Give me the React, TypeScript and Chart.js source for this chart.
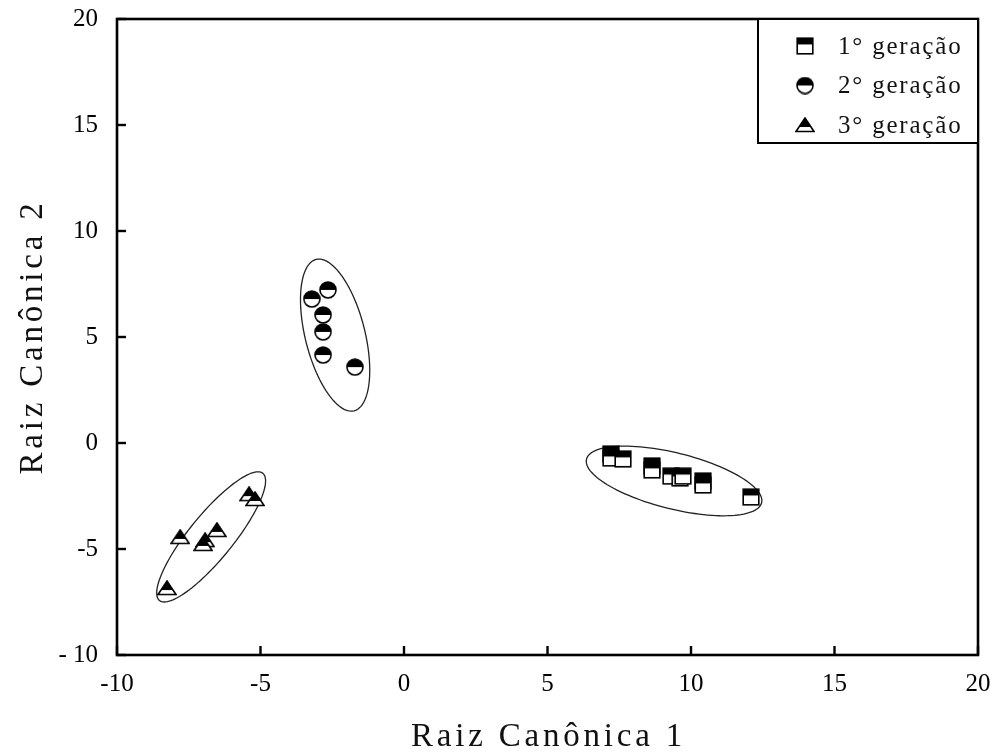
import { useEffect, useRef } from 'react';
import { Chart, registerables } from 'chart.js';

Chart.register(...registerables);

// ---- data ----
const seriesNames = ['1° geração', '2° geração', '3° geração'];

const gen1X = [7.21, 7.21, 7.63, 8.64, 8.64, 9.3, 9.62, 9.72, 10.42, 10.42, 12.09];
const gen1Y = [-0.52, -0.71, -0.75, -1.08, -1.27, -1.56, -1.65, -1.56, -1.79, -1.98, -2.55];

const gen2X = [-2.65, -3.21, -2.82, -2.82, -2.82, -1.71];
const gen2Y = [7.22, 6.79, 6.04, 5.24, 4.15, 3.58];

const gen3X = [-5.4, -5.19, -7.8, -6.93, -7.0, -6.52, -8.26];
const gen3Y = [-2.41, -2.64, -4.43, -4.58, -4.76, -4.1, -6.84];

const xTickValues = [-10, -5, 0, 5, 10, 15, 20];
const xTickLabels = ['-10', '-5', '0', '5', '10', '15', '20'];
const yTickValues = [-10, -5, 0, 5, 10, 15, 20];
const yTickLabels = ['- 10', '-5', '0', '5', '10', '15', '20'];

// group ellipses in data units: centre + two conjugate semi-axes
const ellCx = [9.41, -2.4, -6.72];
const ellCy = [-1.79, 5.09, -4.43];
const ellAx = [3.05, 0.66, 1.8];
const ellAy = [-1.03, -3.57, 3.0];
const ellBx = [-0.24, 1.01, 0.6];
const ellBy = [-1.28, 0.34, -0.65];

const xTitle = 'Raiz Canônica 1';
const yTitle = 'Raiz Canônica 2';

const SERIF = '"Liberation Serif", "Times New Roman", serif';

function makeMarker(shape: 'square' | 'circle' | 'triangle'): HTMLCanvasElement {
  const c = document.createElement('canvas');
  const w = shape === 'triangle' ? 20 : 18;
  const h = shape === 'triangle' ? 16 : 18;
  c.width = w;
  c.height = h;
  const g = c.getContext('2d')!;
  g.lineWidth = 1.6;
  g.strokeStyle = '#000';
  if (shape === 'square') {
    const x0 = 1.2, y0 = 1.2, s = 15.6;
    g.fillStyle = '#fff';
    g.fillRect(x0, y0, s, s);
    g.fillStyle = '#000';
    g.fillRect(x0, y0, s, s * 0.4);
    g.strokeRect(x0, y0, s, s);
  } else if (shape === 'circle') {
    const r = 8, cx = 9, cy = 9;
    g.beginPath();
    g.arc(cx, cy, r, 0, Math.PI * 2);
    g.fillStyle = '#fff';
    g.fill();
    g.beginPath();
    g.arc(cx, cy, r, Math.PI, Math.PI * 2);
    g.closePath();
    g.fillStyle = '#000';
    g.fill();
    g.beginPath();
    g.arc(cx, cy, r, 0, Math.PI * 2);
    g.stroke();
  } else {
    const tri = () => {
      g.beginPath();
      g.moveTo(10, 1);
      g.lineTo(19, 14.5);
      g.lineTo(1, 14.5);
      g.closePath();
    };
    tri();
    g.fillStyle = '#fff';
    g.fill();
    g.save();
    g.clip();
    g.fillStyle = '#000';
    g.fillRect(0, 0, w, 10);
    g.restore();
    tri();
    g.stroke();
  }
  return c;
}

export default function App() {
  const ref = useRef<HTMLCanvasElement | null>(null);

  useEffect(() => {
    if (!ref.current) return;
    const markers = [makeMarker('square'), makeMarker('circle'), makeMarker('triangle')];

    const decor = {
      id: 'decor',
      beforeDatasetsDraw(chart: any) {
        const { ctx, scales } = chart;
        const xs = scales.x, ys = scales.y;
        ctx.save();
        ctx.strokeStyle = '#222';
        ctx.lineWidth = 1.3;
        for (let i = 0; i < ellCx.length; i++) {
          ctx.beginPath();
          const n = 120;
          for (let k = 0; k <= n; k++) {
            const t = (k / n) * Math.PI * 2;
            const vx = ellCx[i] + Math.cos(t) * ellAx[i] + Math.sin(t) * ellBx[i];
            const vy = ellCy[i] + Math.cos(t) * ellAy[i] + Math.sin(t) * ellBy[i];
            const px = xs.getPixelForValue(vx);
            const py = ys.getPixelForValue(vy);
            if (k === 0) ctx.moveTo(px, py);
            else ctx.lineTo(px, py);
          }
          ctx.closePath();
          ctx.stroke();
        }
        ctx.restore();
      },
      afterDraw(chart: any) {
        const { ctx, chartArea, scales } = chart;
        const { left, right, top, bottom } = chartArea;
        ctx.save();
        // frame
        ctx.strokeStyle = '#000';
        ctx.lineWidth = 2.6;
        ctx.strokeRect(left, top, right - left, bottom - top);
        // inward ticks
        ctx.lineWidth = 2.4;
        scales.x.ticks.forEach((t: any) => {
          const px = scales.x.getPixelForValue(t.value);
          ctx.beginPath();
          ctx.moveTo(px, bottom);
          ctx.lineTo(px, bottom - 9);
          ctx.stroke();
        });
        scales.y.ticks.forEach((t: any) => {
          const py = scales.y.getPixelForValue(t.value);
          ctx.beginPath();
          ctx.moveTo(left, py);
          ctx.lineTo(left + 9, py);
          ctx.stroke();
        });
        // legend box
        const lw = 220, lh = 124;
        const lx = right - lw, ly = top;
        ctx.fillStyle = '#fff';
        ctx.fillRect(lx, ly, lw, lh);
        ctx.lineWidth = 2;
        ctx.strokeRect(lx, ly, lw, lh);
        ctx.fillStyle = '#111';
        ctx.font = `25px ${SERIF}`;
        (ctx as any).letterSpacing = '1.8px';
        ctx.textBaseline = 'middle';
        ctx.textAlign = 'left';
        seriesNames.forEach((name, i) => {
          const ry = ly + 27 + i * 39.5;
          const m = markers[i];
          ctx.drawImage(m, lx + 47 - m.width / 2, ry - m.height / 2);
          ctx.fillText(name, lx + 80, ry + 1);
        });
        // axis titles
        ctx.font = `33px ${SERIF}`;
        (ctx as any).letterSpacing = '3.8px';
        ctx.textAlign = 'center';
        ctx.textBaseline = 'alphabetic';
        ctx.fillText(xTitle, (left + right) / 2 + 1, 746);
        ctx.translate(42, (top + bottom) / 2);
        ctx.rotate(-Math.PI / 2);
        ctx.fillText(yTitle, 0, 0);
        (ctx as any).letterSpacing = '0px';
        ctx.restore();
      },
    };

    const mk = (xs: number[], ys: number[]) => xs.map((x, i) => ({ x, y: ys[i] }));

    const chart = new Chart(ref.current, {
      type: 'scatter',
      data: {
        datasets: [
          { label: seriesNames[0], data: mk(gen1X, gen1Y), pointStyle: markers[0] as any },
          { label: seriesNames[1], data: mk(gen2X, gen2Y), pointStyle: markers[1] as any },
          { label: seriesNames[2], data: mk(gen3X, gen3Y), pointStyle: markers[2] as any },
        ],
      },
      options: {
        responsive: false,
        animation: false,
        layout: { padding: { top: 19, right: 17, left: 0, bottom: 0 } },
        plugins: { legend: { display: false }, tooltip: { enabled: false } },
        scales: {
          x: {
            type: 'linear',
            min: -10,
            max: 20,
            afterBuildTicks: (s: any) => {
              s.ticks = xTickValues.map((v) => ({ value: v }));
            },
            afterFit: (s: any) => {
              s.height = 98;
              s.paddingLeft = 0;
              s.paddingRight = 0;
            },
            grid: { display: false, drawTicks: false },
            border: { display: false },
            ticks: {
              padding: 14,
              color: '#000',
              font: { family: SERIF, size: 25 },
              callback: (v: any) => {
                const i = xTickValues.indexOf(Number(v));
                return i >= 0 ? xTickLabels[i] : '';
              },
            },
          },
          y: {
            type: 'linear',
            min: -10,
            max: 20,
            afterBuildTicks: (s: any) => {
              s.ticks = yTickValues.map((v) => ({ value: v }));
            },
            afterFit: (s: any) => {
              s.width = 117;
              s.paddingTop = 0;
              s.paddingBottom = 0;
            },
            grid: { display: false, drawTicks: false },
            border: { display: false },
            ticks: {
              padding: 19,
              color: '#000',
              font: { family: SERIF, size: 25 },
              callback: (v: any) => {
                const i = yTickValues.indexOf(Number(v));
                return i >= 0 ? yTickLabels[i] : '';
              },
            },
          },
        },
      },
      plugins: [decor],
    });
    return () => chart.destroy();
  }, []);

  return (
    <div style={{ position: 'absolute', left: 0, top: 0, width: 995, height: 753, background: '#fff' }}>
      <canvas ref={ref} width={995} height={753} style={{ display: 'block' }} />
    </div>
  );
}
